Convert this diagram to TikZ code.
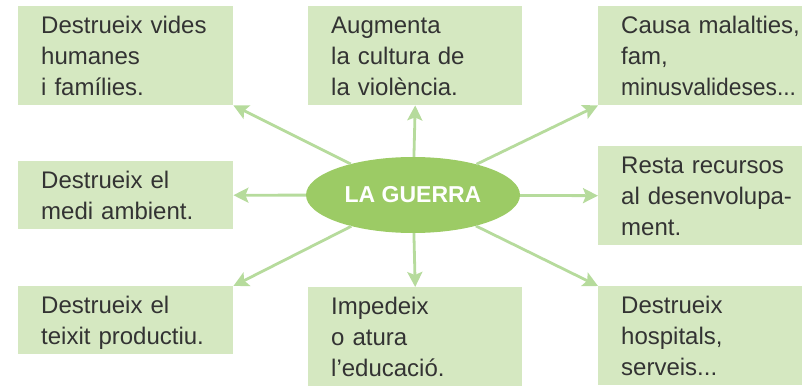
\documentclass[tikz,border=0pt]{standalone}
\usepackage{fontspec}
\setmainfont{Liberation Sans}
\newfontfamily\narrowsans[FakeStretch=0.95]{Liberation Sans}
\usetikzlibrary{shapes.geometric}
\usetikzlibrary{arrows.meta}

\definecolor{boxgreen}{HTML}{D5E8C1}
\definecolor{wargreen}{HTML}{9CCB65}
\definecolor{arrowgreen}{HTML}{B6DB9C}
\definecolor{textgray}{HTML}{333333}

\hyphenpenalty=10000

\begin{document}
\begin{tikzpicture}[x=1pt, y=-1pt,
    effect/.style={
        % The shape:
        rectangle,
        anchor=north west,
        % The size:
        inner xsep=23pt,
        inner ysep=0pt,
        text height=27pt,
        % The filling
        fill=boxgreen,
        % Font
        font=\fontsize{24}{31}\selectfont,
        text=textgray,
        align=left
    },
    war/.style={
        % The shape:
        ellipse,
        % The size:
        minimum width=214pt,
        minimum height=76pt,
        inner sep=0pt,
        % The filling
        fill=wargreen,
        % Font
        text=white,
        font=\fontsize{23}{28}\selectfont\bfseries
    },
    link/.style={
        arrowgreen,
        line width=2.8pt,
        -{Stealth[length=15pt,width=15pt,inset=3pt]}
    }]

    \useasboundingbox (0,0) rectangle (802,387);

    \foreach \x/\y/\w/\d/\name/\txt in {
        18/6/169/72/lives/{Destrueix vides\\humanes\\i famílies.},
        308/6/168/72/culture/{Augmenta\\la cultura de\\la violència.},
        598/6/190/72/illness/{Causa malalties,\\fam,\\{\narrowsans minusvalideses...}},
        18/161/169/41/nature/{Destrueix el\\medi ambient.},
        598/146/190/72/means/{Resta recursos\\al desenvolupa-\\ment.},
        18/286/169/41/industry/{Destrueix el\\teixit productiu.},
        308/287/168/72/school/{Impedeix\\o atura\\l’educació.},
        598/286/190/72/hospital/{Destrueix\\hospitals,\\serveis...}}
    {
        \node [effect, text width=\w pt, text depth=\d pt] (\name) at (\x,\y) {\txt};
    }

    \node [war] (guerra) at (413,195) {LA GUERRA};

    \draw [link] (guerra) -- (lives.south east);
    \draw [link] (guerra) -- (culture.south);
    \draw [link] (guerra) -- (illness.south west);
    \draw [link] (guerra) -- (nature.east);
    \draw [link] (guerra) -- (means.west);
    \draw [link] (guerra) -- (industry.north east);
    \draw [link] (guerra) -- (school.north);
    \draw [link] (guerra) -- (hospital.north west);
\end{tikzpicture}
\end{document}
